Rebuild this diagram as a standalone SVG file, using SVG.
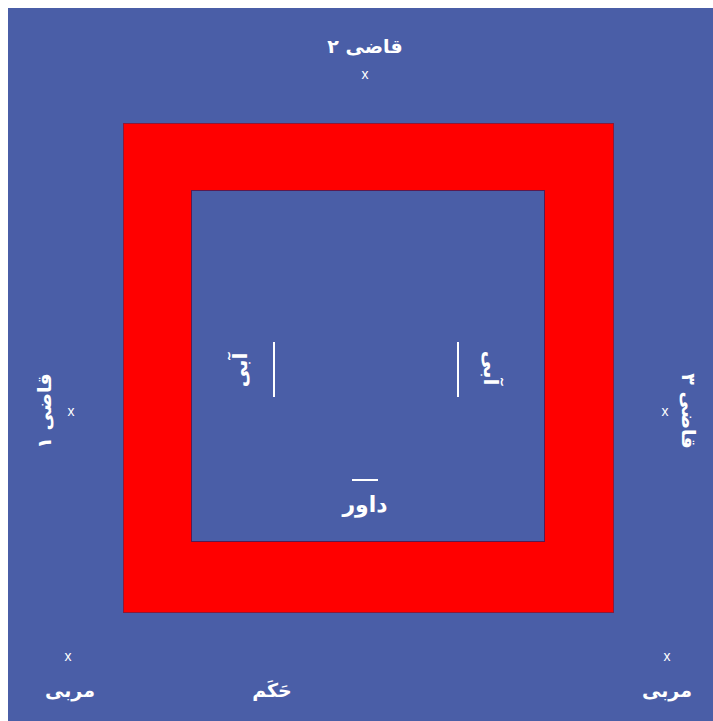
<svg xmlns="http://www.w3.org/2000/svg" width="713" height="721" viewBox="0 0 713 721">
<style>
.t{font-family:"DejaVu Sans","Noto Sans",sans-serif;font-weight:bold;fill:#ffffff;text-anchor:middle}
.x{font-family:"Liberation Sans",sans-serif;fill:#ffffff;text-anchor:middle;font-size:14px}
.ln{stroke:#ffffff;stroke-width:2}
</style>
<rect x="0" y="0" width="713" height="721" fill="#ffffff"/>
<g id="field">
<rect x="8" y="8" width="705" height="713" fill="#4a5ea7"/>
</g>
<g id="ring">
<rect x="123.5" y="123.5" width="490" height="489" fill="#ff0000" stroke="#8b1a3a" stroke-width="1"/>
<rect x="191.5" y="190.5" width="353" height="351" fill="#4a5ea7" stroke="#5a1a50" stroke-width="1"/>
</g>
<g id="judge2">
<text class="t" x="365" y="53" font-size="19">قاضی ۲</text>
<text class="x" x="365" y="79">x</text>
</g>
<g id="judge1">
<text class="t" font-size="19" transform="translate(51,411) rotate(-90)">قاضی ۱</text>
<text class="x" x="71" y="416">x</text>
</g>
<g id="judge3">
<text class="t" font-size="19" transform="translate(682,411) rotate(90)">قاضی ۳</text>
<text class="x" x="665" y="416">x</text>
</g>
<g id="blue">
<line class="ln" x1="274" y1="342" x2="274" y2="397"/>
<text class="t" font-size="20" transform="translate(247,370) rotate(-90)">آبی</text>
</g>
<g id="red">
<line class="ln" x1="458" y1="342" x2="458" y2="397"/>
<text class="t" font-size="20" transform="translate(484,368) rotate(90)">آبی</text>
</g>
<g id="referee">
<line class="ln" x1="352" y1="480" x2="378" y2="480"/>
<text class="t" x="365" y="512" font-size="22">داور</text>
</g>
<g id="coach1">
<text class="x" x="68" y="661">x</text>
<text class="t" x="70" y="697" font-size="19">مربی</text>
</g>
<g id="judge">
<text class="t" x="272" y="697" font-size="19">حَکَم</text>
</g>
<g id="coach2">
<text class="x" x="667" y="661">x</text>
<text class="t" x="667" y="697" font-size="19">مربی</text>
</g>
</svg>
